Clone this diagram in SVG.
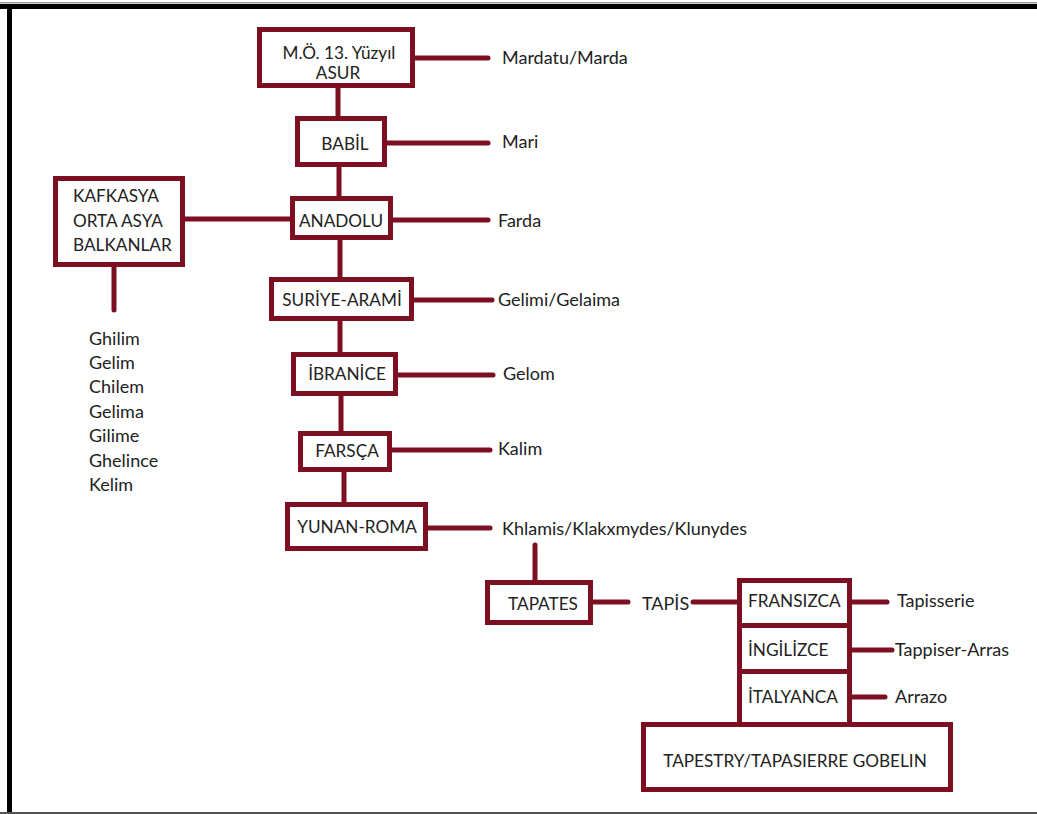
<svg xmlns="http://www.w3.org/2000/svg" width="1037" height="814" viewBox="0 0 1037 814">
<style>
.box{fill:#fff;stroke:#7d0f22;stroke-width:5}
.ln{stroke:#7d0f22;stroke-width:5;fill:none}
.rc{stroke-linecap:round}
text{font-family:Lato,"Open Sans","Liberation Sans",sans-serif;font-size:18px;fill:#222}
g.node text{font-size:17.2px}
.c{text-anchor:middle}
</style>
<rect x="0" y="0" width="1037" height="814" fill="#fff"/>
<rect x="0" y="2" width="1037" height="1.5" fill="#999"/>
<rect x="0" y="4" width="1037" height="5" fill="#000"/>
<rect x="7" y="4" width="5" height="810" fill="#000"/>
<rect x="0" y="812" width="1037" height="2" fill="#555"/>
<g id="connectors">
<line class="ln rc" x1="415" y1="58" x2="488" y2="58"/>
<line class="ln" x1="338" y1="88" x2="338" y2="116"/>
<line class="ln rc" x1="387" y1="143" x2="488" y2="143"/>
<line class="ln" x1="339" y1="167" x2="339" y2="196"/>
<line class="ln rc" x1="393" y1="220" x2="488" y2="220"/>
<line class="ln" x1="185" y1="219" x2="290" y2="219"/>
<line class="ln rc" x1="114" y1="267" x2="114" y2="310"/>
<line class="ln" x1="340" y1="240" x2="340" y2="277"/>
<line class="ln rc" x1="414" y1="300" x2="492" y2="300"/>
<line class="ln" x1="340" y1="321" x2="340" y2="352"/>
<line class="ln rc" x1="398" y1="375" x2="493" y2="375"/>
<line class="ln" x1="341" y1="396" x2="341" y2="431"/>
<line class="ln rc" x1="393" y1="450" x2="490" y2="450"/>
<line class="ln" x1="344" y1="472" x2="344" y2="502"/>
<line class="ln rc" x1="428" y1="528" x2="490" y2="528"/>
<line class="ln rc" x1="535" y1="545" x2="535" y2="580"/>
<line class="ln rc" x1="593" y1="602" x2="628" y2="602"/>
<line class="ln rc" x1="693" y1="602" x2="737" y2="602"/>
<line class="ln rc" x1="852" y1="602" x2="887" y2="602"/>
<line class="ln rc" x1="852" y1="650" x2="892" y2="650"/>
<line class="ln rc" x1="852" y1="697" x2="885" y2="697"/>
</g>
<g id="asur" class="node"><rect class="box" x="259.5" y="29.5" width="153" height="56"/><text class="c" x="339" y="59">M.Ö. 13. Yüzyıl</text><text class="c" x="338" y="79">ASUR</text></g>
<g id="babil" class="node"><rect class="box" x="297.5" y="118.5" width="87" height="46"/><text class="c" x="345" y="150">BABİL</text></g>
<g id="anadolu" class="node"><rect class="box" x="292.5" y="198.5" width="98" height="39"/><text class="c" x="341" y="227">ANADOLU</text></g>
<g id="kafkasya" class="node"><rect class="box" x="55.5" y="178.5" width="127" height="86"/><text x="73" y="202">KAFKASYA</text><text x="73" y="227">ORTA ASYA</text><text x="73" y="251">BALKANLAR</text></g>
<g id="suriye" class="node"><rect class="box" x="271.5" y="279.5" width="140" height="39"/><text class="c" x="342" y="306">SURİYE-ARAMİ</text></g>
<g id="ibranice" class="node"><rect class="box" x="293.5" y="354.5" width="102" height="39"/><text class="c" x="347" y="380">İBRANİCE</text></g>
<g id="farsca" class="node"><rect class="box" x="300.5" y="433.5" width="89" height="36"/><text class="c" x="347" y="457">FARSÇA</text></g>
<g id="yunan" class="node"><rect class="box" x="287.5" y="504.5" width="138" height="44"/><text class="c" x="357" y="533">YUNAN-ROMA</text></g>
<g id="tapates" class="node"><rect class="box" x="487.5" y="582.5" width="103" height="40"/><text class="c" x="543" y="610">TAPATES</text></g>
<g id="fransizca" class="node"><rect class="box" x="739.5" y="580.5" width="110" height="45"/><text x="748" y="607">FRANSIZCA</text></g>
<g id="ingilizce" class="node"><rect class="box" x="739.5" y="625.5" width="110" height="46"/><text x="748" y="656">İNGİLİZCE</text></g>
<g id="italyanca" class="node"><rect class="box" x="739.5" y="671.5" width="110" height="53"/><text x="748" y="703">İTALYANCA</text></g>
<g id="tapestry" class="node"><rect class="box" x="643.5" y="724.5" width="307" height="65"/><text class="c" x="795" y="767">TAPESTRY/TAPASIERRE GOBELIN</text></g>
<g id="labels">
<text x="502" y="64">Mardatu/Marda</text>
<text x="502" y="148">Mari</text>
<text x="498" y="227">Farda</text>
<text x="498" y="306">Gelimi/Gelaima</text>
<text x="503" y="380">Gelom</text>
<text x="498" y="455">Kalim</text>
<text x="502" y="535">Khlamis/Klakxmydes/Klunydes</text>
<text x="642" y="610">TAPİS</text>
<text x="897" y="607">Tapisserie</text>
<text x="895" y="656">Tappiser-Arras</text>
<text x="895" y="703">Arrazo</text>
</g>
<g id="list">
<text x="89" y="345">Ghilim</text>
<text x="89" y="369">Gelim</text>
<text x="89" y="393">Chilem</text>
<text x="89" y="418">Gelima</text>
<text x="89" y="442">Gilime</text>
<text x="89" y="467">Ghelince</text>
<text x="89" y="491">Kelim</text>
</g>
</svg>
